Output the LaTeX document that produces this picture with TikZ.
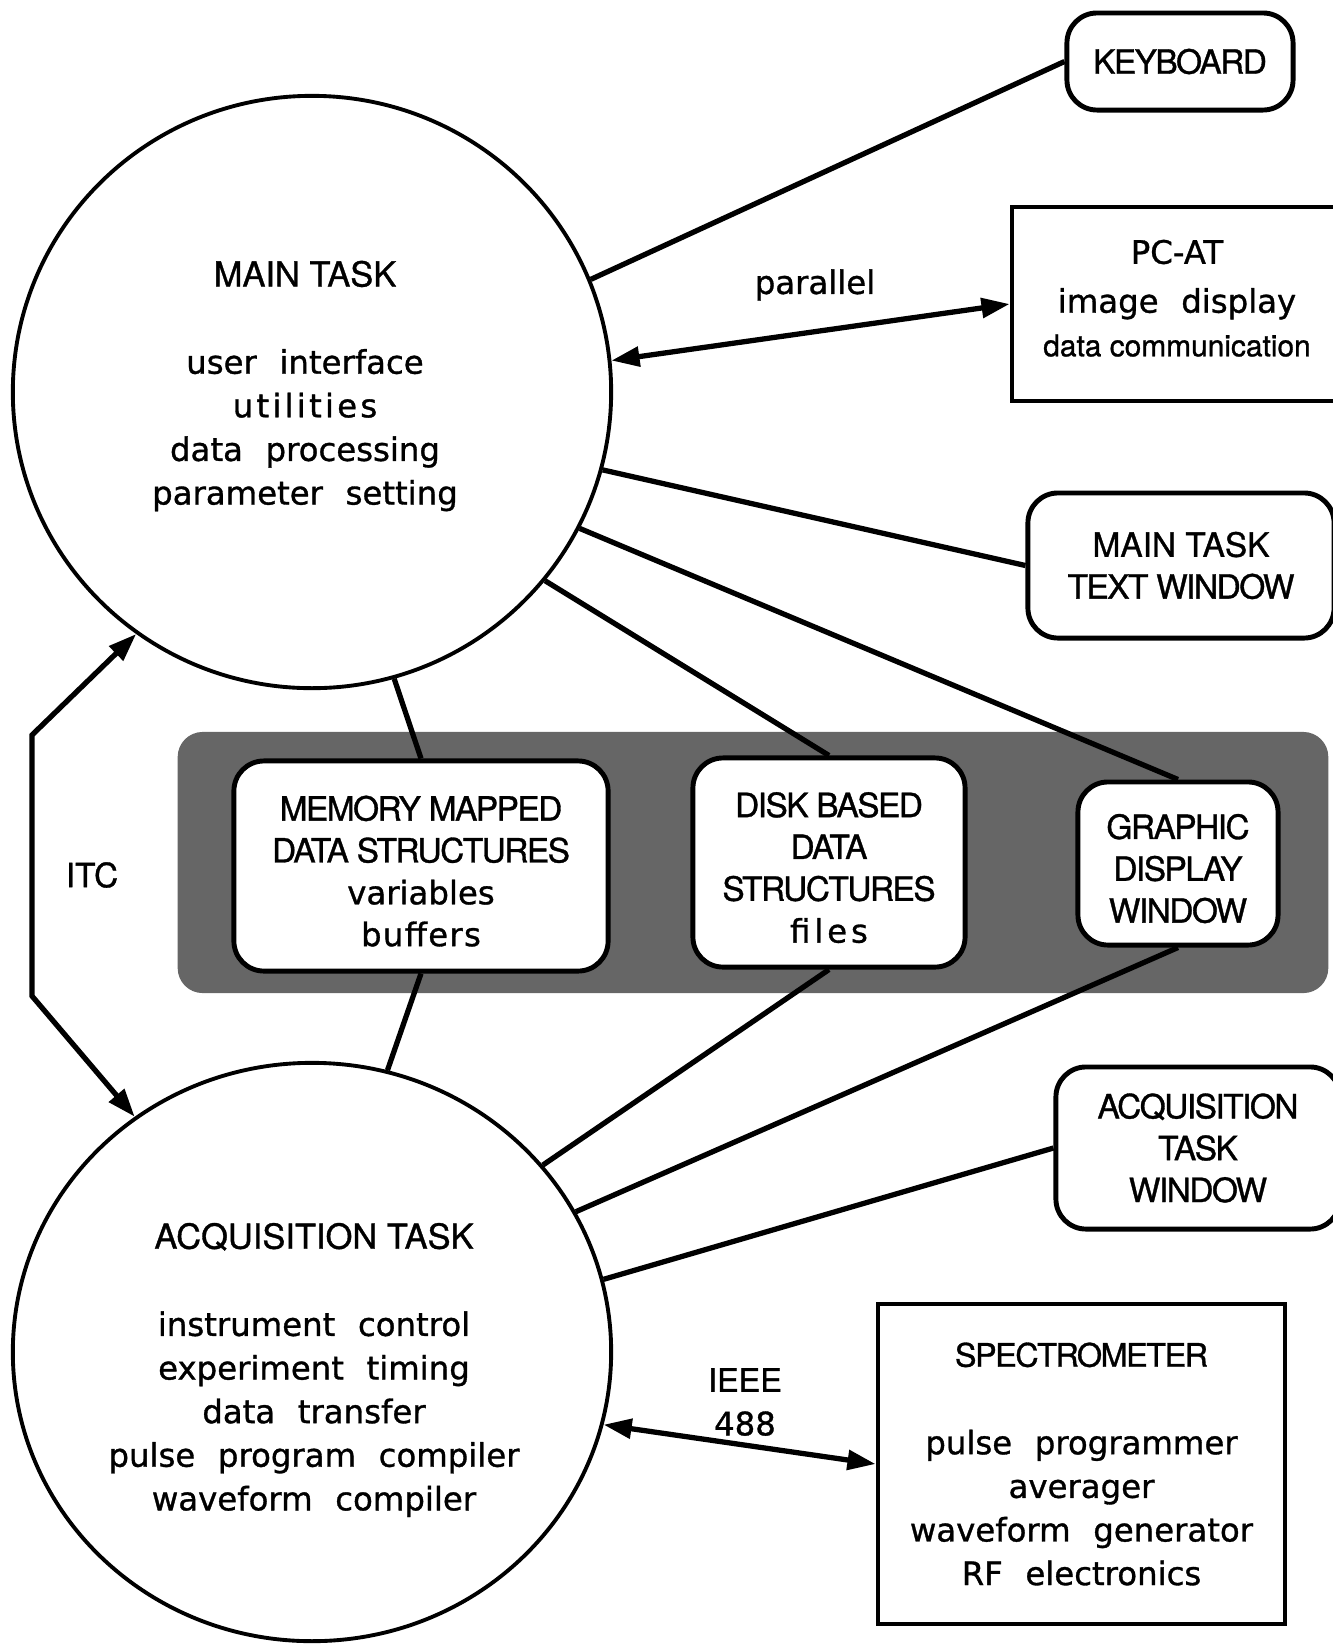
\documentclass[tikz,border=0pt]{standalone}
\usepackage{fontspec}
\setmainfont{DejaVu Sans}[FakeBold=1]
\newfontfamily\widesf{DejaVu Sans}[FakeBold=1]
\newfontfamily\capsf{TeX Gyre Heros}[LetterSpace=-4.5, FakeBold=1]
\newfontfamily\plainsf{TeX Gyre Heros}[FakeBold=1]
\usetikzlibrary{shapes,arrows.meta,positioning}
\newcommand{\wgap}{\hspace{0.7em}}

\tikzset{
    task/.style={draw, ellipse, line width=1.1pt, inner sep=0pt},
    tasktext/.style={align=center, inner sep=0pt, font=\fontsize{9.2}{12.4}\selectfont},
    shelf/.style={fill=black!60, rounded corners=0.25cm, inner sep=0pt},
    winbox/.style={draw, fill=white, rounded corners=0.3cm, line width=1.4pt, align=center,
        font=\capsf\fontsize{9.5}{11.9}\selectfont},
    devbox/.style={draw, fill=white, line width=1.3pt, align=center,
        font=\fontsize{9.2}{12.4}\selectfont},
    lbl/.style={align=center, inner sep=0pt, font=\fontsize{9.2}{12.4}\selectfont},
    link/.style={line width=1.5pt},
    biarrow/.style={link, {Triangle[length=8pt,width=5.5pt]}-{Triangle[length=8pt,width=5.5pt]}}
}

\begin{document}
\begin{tikzpicture}[x=0.01cm,y=-0.01cm]
    \useasboundingbox (0,0) rectangle (1332,1644);

    % Shared data area
    \node[shelf, minimum width=11.5cm, minimum height=2.61cm] (store) at (753,862.5) {};

    % Tasks
    \node[task, minimum width=5.98cm, minimum height=5.92cm] (main) at (312,392) {};
    \node[task, minimum width=5.98cm, minimum height=5.78cm] (acq) at (312,1352) {};
    \node[tasktext] (maintxt) at (305,386) {{\plainsf\fontsize{9.8}{12.4}\selectfont MAIN TASK}\\[12.4pt]
        user\wgap interface\\ {\addfontfeature{LetterSpace=10}utilities}\\
        data\wgap processing\\ parameter\wgap setting};
    \node[tasktext] (acqtxt) at (314,1370) {{\plainsf\fontsize{9.8}{12.4}\selectfont ACQUISITION TASK}\\[12.4pt]
        instrument\wgap control\\ experiment\wgap timing\\ data\wgap transfer\\
        pulse\wgap program\wgap compiler\\ waveform\wgap compiler};

    % Windows and devices
    \node[winbox, minimum width=2.26cm, minimum height=0.97cm] (kbd) at (1180,61.5) {KEYBOARD};
    \node[devbox, minimum width=3.3cm, minimum height=1.94cm] (pcat) at (1177,304)
        {PC-AT\\[1.5pt] image\wgap display\\ {\plainsf\fontsize{8.5}{10}\selectfont data communication}\\[-9pt]\mbox{}};
    \node[winbox, minimum width=3.06cm, minimum height=1.45cm] (mttw) at (1181,565.5)
        {{\plainsf MAIN TASK}\\ TEXT WINDOW};
    \node[winbox, minimum width=3.74cm, minimum height=2.1cm] (memory) at (421,866)
        {\rule{0pt}{10pt}MEMORY MAPPED\\ DATA STRUCTURES\\ {\widesf\fontsize{9.2}{11.9}\selectfont variables}\\
        {\widesf\fontsize{9.2}{11.9}\selectfont\addfontfeature{LetterSpace=4}buffers}};
    \node[winbox, minimum width=2.72cm, minimum height=2.09cm] (disk) at (829,862.5)
        {\rule{0pt}{10pt}DISK BASED\\ DATA\\ STRUCTURES\\
        {\widesf\fontsize{9.2}{11.9}\selectfont\addfontfeature{LetterSpace=12}files}};
    \node[winbox, minimum width=2.0cm, minimum height=1.63cm] (graphic) at (1178,863.5)
        {\rule{0pt}{10pt}GRAPHIC\\ DISPLAY\\ WINDOW};
    \node[winbox, minimum width=2.84cm, minimum height=1.62cm] (acqwin) at (1198,1148)
        {ACQUISITION\\ TASK\\ WINDOW};
    \node[devbox, minimum width=4.07cm, minimum height=3.2cm] (spec) at (1081.5,1464)
        {{\capsf SPECTROMETER}\\[12.5pt] pulse\wgap programmer\\ averager\\
        waveform\wgap generator\\ RF\wgap electronics};

    % Labels
    \node[lbl, font=\plainsf\fontsize{9.5}{12}\selectfont] (itc) at (92,875) {ITC};
    \node[lbl] (par) at (815,285) {parallel};
    \node[lbl] (ieee) at (745,1402) {{\plainsf IEEE}\\ 488};

    % Links
    \foreach \a/\b in {22.6/kbd.west, -15.4/mttw.west, -27.2/graphic.north,
                       -39.1/disk.north, -74.8/memory.north}
        \draw[link] (main.\a) -- (\b);
    \foreach \a/\b in {75.3/memory.south, 39.9/disk.south, 28.9/graphic.south, 14.3/acqwin.west}
        \draw[link] (acq.\a) -- (\b);
    \draw[biarrow] (main.6) -- (pcat.west);
    \draw[biarrow] (acq.-14.3) -- (spec.west);

    % ITC
    \coordinate (itctop) at (32,735);
    \coordinate (itcbot) at (32,996);
    \draw[biarrow] (main.234) -- (itctop) -- (itcbot) -- (acq.127);
\end{tikzpicture}
\end{document}
